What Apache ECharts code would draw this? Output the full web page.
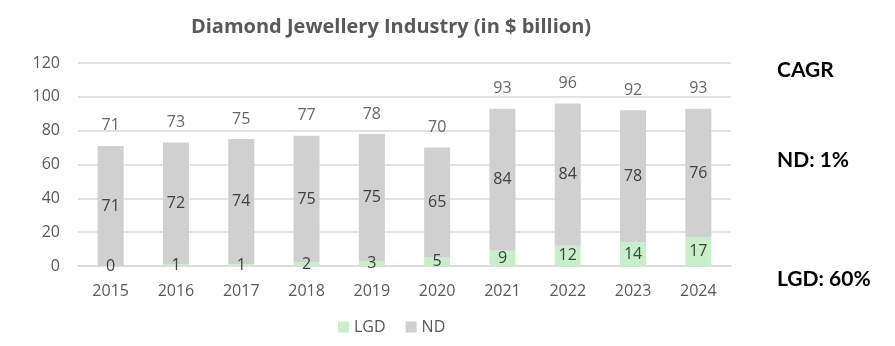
<!DOCTYPE html>
<html>
<head>
<meta charset="utf-8">
<script src="https://cdn.jsdelivr.net/npm/echarts@6/dist/echarts.min.js"></script>
<style>
  html, body { margin: 0; padding: 0; background: #fff; }
  #chart { width: 895px; height: 346px; }
</style>
</head>
<body>
<div id="chart"></div>
<script>
// Diamond jewellery market, split into lab-grown (LGD) and natural (ND), $ billion
const years = ['2015', '2016', '2017', '2018', '2019', '2020', '2021', '2022', '2023', '2024'];
const lgdValues = [0, 1, 1, 2, 3, 5, 9, 12, 14, 17];
const ndValues = [71, 72, 74, 75, 75, 65, 84, 84, 78, 76];
const yTicks = [0, 20, 40, 60, 80, 100, 120];
const cagrTitle = 'CAGR';
const cagrLines = ['ND: 1%', 'LGD: 60%'];

const totals = years.map((_, i) => lgdValues[i] + ndValues[i]);

const labelColor = '#404040';
const axisColor = '#595959';
const font = 'Open Sans';
const labelSize = 16;

const chart = echarts.init(document.getElementById('chart'), null, { renderer: 'canvas' });

chart.setOption({
  animation: false,
  title: {
    text: 'Diamond Jewellery Industry (in $ billion)',
    left: 386,
    textAlign: 'center',
    top: 12,
    textStyle: { fontFamily: font, fontSize: 20, fontWeight: 'bold', color: '#595959' }
  },
  legend: {
    data: ['LGD', 'ND'],
    bottom: 6,
    left: 333,
    icon: 'rect',
    itemWidth: 11,
    itemHeight: 11,
    itemGap: 20,
    textStyle: { fontFamily: font, fontSize: labelSize, color: axisColor }
  },
  grid: { left: 78, right: 164, top: 63, bottom: 80 },
  xAxis: {
    type: 'category',
    data: years,
    axisTick: { show: false },
    axisLine: { lineStyle: { color: '#d9d9d9', width: 1.5 } },
    axisLabel: { fontFamily: font, fontSize: labelSize, color: axisColor, margin: 17 }
  },
  yAxis: {
    type: 'value',
    min: yTicks[0],
    max: yTicks[yTicks.length - 1],
    interval: yTicks[1] - yTicks[0],
    axisLine: { show: false },
    axisTick: { show: false },
    splitLine: { lineStyle: { color: '#d9d9d9', width: 1.5 } },
    axisLabel: { fontFamily: font, fontSize: labelSize, color: axisColor, margin: 18 }
  },
  series: [
    {
      name: 'LGD',
      type: 'bar',
      stack: 'total',
      barWidth: 26,
      data: lgdValues,
      itemStyle: { color: '#c6efca' },
      label: {
        show: true,
        position: 'inside',
        fontFamily: font,
        fontSize: labelSize,
        color: labelColor
      }
    },
    {
      name: 'ND',
      type: 'bar',
      stack: 'total',
      barWidth: 26,
      data: ndValues,
      itemStyle: { color: '#d0d0d0' },
      label: {
        show: true,
        position: 'inside',
        fontFamily: font,
        fontSize: labelSize,
        color: labelColor
      }
    },
    {
      // transparent markers carrying the total above each stack
      name: 'Total',
      type: 'scatter',
      data: totals,
      symbolSize: 2,
      itemStyle: { color: 'rgba(0,0,0,0)' },
      silent: true,
      label: {
        show: true,
        position: 'top',
        distance: 11,
        fontFamily: font,
        fontSize: labelSize,
        color: labelColor
      }
    }
  ],
  graphic: [
    {
      type: 'text',
      left: 777,
      top: 60,
      style: { text: cagrTitle, fontFamily: 'Lato', fontWeight: 'bold', fontSize: 21, fill: '#000' }
    },
    {
      type: 'text',
      left: 777,
      top: 150,
      style: { text: cagrLines[0], fontFamily: 'Lato', fontWeight: 'bold', fontSize: 21, fill: '#000' }
    },
    {
      type: 'text',
      left: 777,
      top: 269,
      style: { text: cagrLines[1], fontFamily: 'Lato', fontWeight: 'bold', fontSize: 21, fill: '#000' }
    }
  ]
});
</script>
</body>
</html>
